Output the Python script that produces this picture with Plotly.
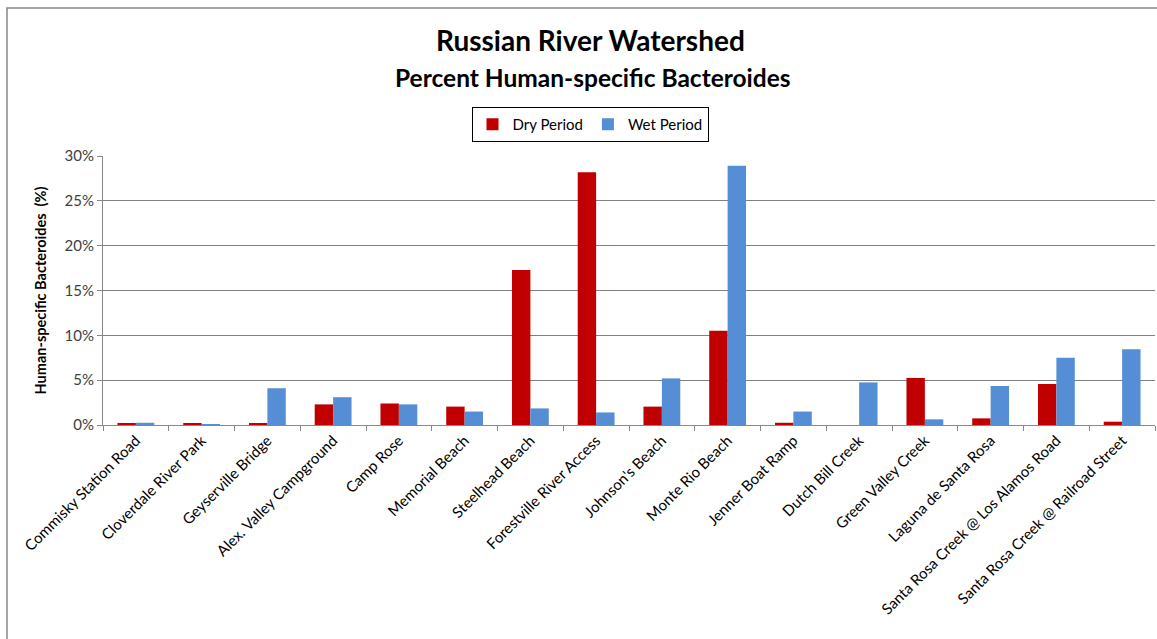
import plotly.graph_objects as go

# Sampling sites along the Russian River watershed
sites = [
    "Commisky Station Road", "Cloverdale River Park", "Geyserville Bridge",
    "Alex. Valley Campground", "Camp Rose", "Memorial Beach", "Steelhead Beach",
    "Forestville River Access", "Johnson's Beach", "Monte Rio Beach",
    "Jenner Boat Ramp", "Dutch Bill Creek", "Green Valley Creek",
    "Laguna de Santa Rosa", "Santa Rosa Creek @ Los Alamos Road",
    "Santa Rosa Creek @ Railroad Street",
]

# Percent human-specific Bacteroides (fraction)
dry_period = [0.0015, 0.0015, 0.0015, 0.023, 0.024, 0.0205, 0.173, 0.282,
              0.0205, 0.105, 0.0025, 0.0, 0.0525, 0.0074, 0.0457, 0.0037]
wet_period = [0.0025, 0.001, 0.041, 0.031, 0.023, 0.015, 0.0185, 0.014,
              0.052, 0.289, 0.015, 0.0475, 0.0063, 0.0435, 0.075, 0.0844]

y_ticks = [0, 0.05, 0.10, 0.15, 0.20, 0.25, 0.30]
y_tick_labels = ["0%", "5%", "10%", "15%", "20%", "25%", "30%"]

W, H = 1157, 639
L, R, T, B = 103, 2, 156, 214
pw, ph = W - L - R, H - T - B

font = "Lato, 'Open Sans', sans-serif"

fig = go.Figure()
fig.add_trace(go.Bar(x=sites, y=dry_period, name="Dry Period",
                     marker=dict(color="#C00000", line=dict(width=0))))
fig.add_trace(go.Bar(x=sites, y=wet_period, name="Wet Period",
                     marker=dict(color="#558ED5", line=dict(width=0))))


def px_x(x):
    return (x - L) / pw


def px_y(y):
    return (H - B - y) / ph


fig.update_layout(
    width=W, height=H,
    margin=dict(l=L, r=R, t=T, b=B),
    paper_bgcolor="white", plot_bgcolor="white",
    barmode="group", bargap=0.44, bargroupgap=0,
    font=dict(family=font, color="#000000"),
    showlegend=True,
    legend=dict(
        orientation="h", x=px_x(590), xanchor="center",
        y=px_y(107), yanchor="top",
        bordercolor="#000000", borderwidth=1,
        font=dict(size=15, color="#000000", family=font),
        itemwidth=30, traceorder="normal",
        tracegroupgap=0,
    ),
    xaxis=dict(
        type="category", tickangle=-45,
        tickfont=dict(size=15, color="#000000", family=font),
        showline=True, linecolor="#888888", linewidth=1,
        ticks="outside", ticklen=5, tickcolor="#888888",
        tickson="boundaries", showgrid=False,
    ),
    yaxis=dict(
        range=[0, 0.30], tickvals=y_ticks, ticktext=y_tick_labels,
        tickfont=dict(size=15, color="#404040", family=font),
        showline=True, linecolor="#888888", linewidth=1,
        ticks="outside", ticklen=5, tickcolor="#888888",
        showgrid=True, gridcolor="#808080", gridwidth=1,
        zeroline=False,
        title=dict(text="<b>Human-specific Bacteroides  (%)</b>",
                   font=dict(size=14.5, color="#000000", family=font),
                   standoff=14),
    ),
    annotations=[
        dict(text="<b>Russian River Watershed</b>", xref="paper", yref="paper",
             x=px_x(590), y=px_y(40), xanchor="center", yanchor="middle",
             showarrow=False, font=dict(size=28, color="#000000", family=font)),
        dict(text="<b>Percent Human-specific Bacteroides</b>", xref="paper",
             yref="paper", x=px_x(593), y=px_y(77), xanchor="center",
             yanchor="middle", showarrow=False,
             font=dict(size=24.5, color="#000000", family=font)),
    ],
    shapes=[
        dict(type="rect", xref="paper", yref="paper",
             x0=px_x(7), x1=px_x(W + 20), y0=px_y(H + 20), y1=px_y(8),
             line=dict(color="#888888", width=1.5), fillcolor="rgba(0,0,0,0)",
             layer="below"),
    ],
)

fig.write_html("out.html")
